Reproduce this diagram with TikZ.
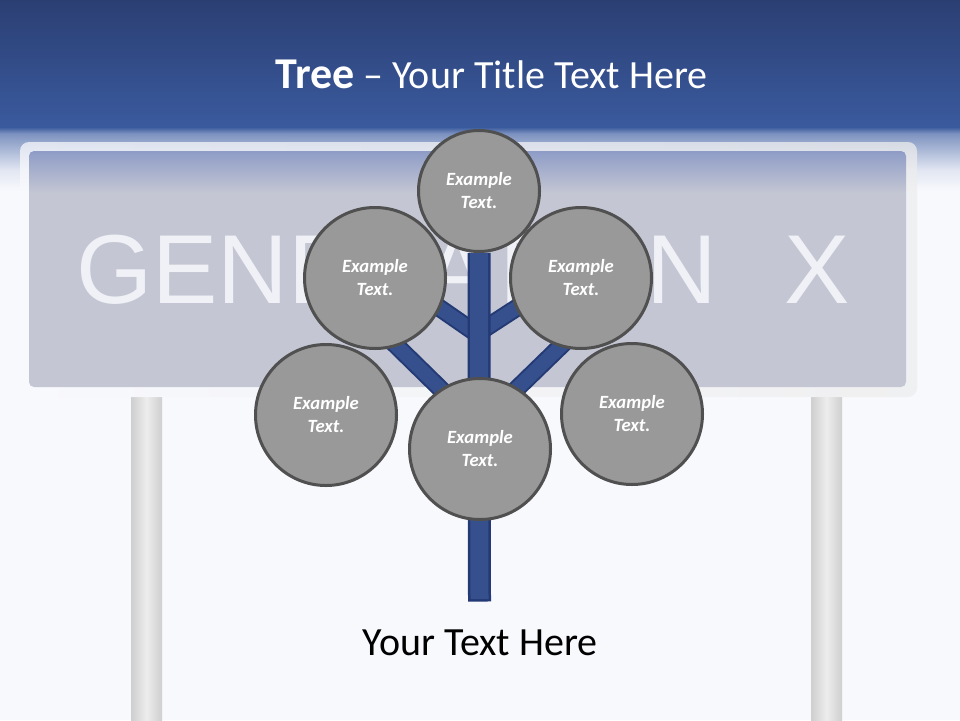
\documentclass[tikz,border=0pt]{standalone}
\usepackage{fontspec}
\setmainfont{Carlito}
\newfontfamily\signfont{Liberation Sans}
\usetikzlibrary{positioning,calc}
\definecolor{pagebg}{HTML}{F8F9FD}
\definecolor{barblue}{HTML}{3A5A9E}
\definecolor{bardark}{HTML}{2B3F73}
\definecolor{stemblue}{HTML}{35508C}
\definecolor{stemdark}{HTML}{243A75}
\definecolor{leafgray}{HTML}{999999}
\definecolor{leafline}{HTML}{505050}
\definecolor{signtext}{HTML}{EFF1F6}
\definecolor{signgray}{HTML}{C4C7D3}
\definecolor{signblue}{HTML}{8E9CC6}
\pgfdeclareverticalshading{barfade}{100bp}{color(0bp)=(pagebg);color(26bp)=(pagebg);color(42bp)=(barblue!12!pagebg);color(57bp)=(barblue!40!pagebg);color(65bp)=(barblue!55!pagebg);color(70bp)=(barblue!65!pagebg);color(75bp)=(barblue);color(100bp)=(barblue)}
\pgfdeclareverticalshading{signfade}{100bp}{color(0bp)=(signgray);color(66bp)=(signgray);color(75bp)=(signblue);color(100bp)=(signblue)}
\pgfdeclarehorizontalshading{postfade}{100bp}{color(0bp)=(black!19);color(25bp)=(black!19);color(50bp)=(black!7);color(75bp)=(black!19);color(100bp)=(black!19)}
\pgfdeclarelayer{signlayer}
\pgfdeclarelayer{stemlayer}
\pgfsetlayers{signlayer,stemlayer,main}
\tikzset{
  leaf/.style={circle,draw=leafline,line width=3pt,fill=leafgray,minimum size=141pt,inner sep=0pt,align=center,text=white,font=\fontsize{18.67}{23}\selectfont\bfseries\itshape},
  leafsmall/.style={leaf,minimum size=121pt},
  branch/.style={draw=stemdark,line width=18pt,postaction={draw=stemblue,line width=14pt}},
  stem/.style={draw=stemdark,line width=23pt},
  steminner/.style={draw=stemblue,line width=18pt},
  post/.style={shading=postfade,draw=none},
}
\begin{document}
\begin{tikzpicture}[x=1pt,y=-1pt,node distance=0.2cm,on grid]
\begin{pgfonlayer}{signlayer}
\fill[pagebg] (0,0) rectangle (960,720);
\shade[shading=barfade] (0,127) rectangle (960,192);
\shade[top color=bardark,bottom color=barblue] (0,0) rectangle (960,127);
\shade[post] (131,397) rectangle (162,720);
\shade[post] (811,397) rectangle (842,720);
\shade[left color=pagebg,right color=black!7,opacity=0.75,rounded corners=9pt] (20,142) rectangle (917,397);
\shade[shading=signfade,rounded corners=5pt] (29,151) rectangle (906,387);
\node[anchor=base west,inner sep=0pt,text=signtext,font=\signfont\fontsize{98}{98}\selectfont](q_sign) at (76,303){GENERATION\hspace{68pt}X};
\end{pgfonlayer}
\node[anchor=base,inner sep=0pt,text=white,font=\fontsize{40}{48}\selectfont](q_title) at (491.5,88){{\fontsize{44}{48}\selectfont\textbf{Tree}} -- Your Title Text Here};
\node[leaf](q_b) at (480,449){Example\\Text.};
\node[leaf](q_l)[above=171pt of q_b,xshift=-105pt]{Example\\Text.};
\node[leaf](q_r)[above=171pt of q_b,xshift=101pt]{Example\\Text.};
\node[leaf](q_ll)[above=34pt of q_b,xshift=-154pt]{Example\\Text.};
\node[leaf](q_rr)[above=35pt of q_b,xshift=152pt]{Example\\Text.};
\node[leafsmall](q_t)[above=258pt of q_b,xshift=-1pt]{Example\\Text.};
\node[anchor=base,inner sep=0pt,font=\fontsize{40}{48}\selectfont](q_text) at (480,655){Your Text Here};
\coordinate(q_root) at (479.5,601.5);
\coordinate(q_fa) at (479.5,427);
\coordinate(q_fb) at (479.5,425);
\coordinate(q_fc) at (479.5,335.6);
\coordinate(q_fd) at (479.5,332);
\begin{pgfonlayer}{stemlayer}
\draw[branch,shorten <=-12pt] (q_l.-72) -- (q_fa);
\draw[branch,shorten <=-12pt] (q_r.-107) -- (q_fb);
\draw[branch,shorten <=-12pt] (q_l.-25) -- (q_fc);
\draw[branch,shorten <=-12pt] (q_r.-155) -- (q_fd);
\draw[stem] (q_root) -- (q_t);
\draw[steminner,shorten <=2.5pt] (q_root) -- (q_t);
\end{pgfonlayer}
\end{tikzpicture}
\end{document}
